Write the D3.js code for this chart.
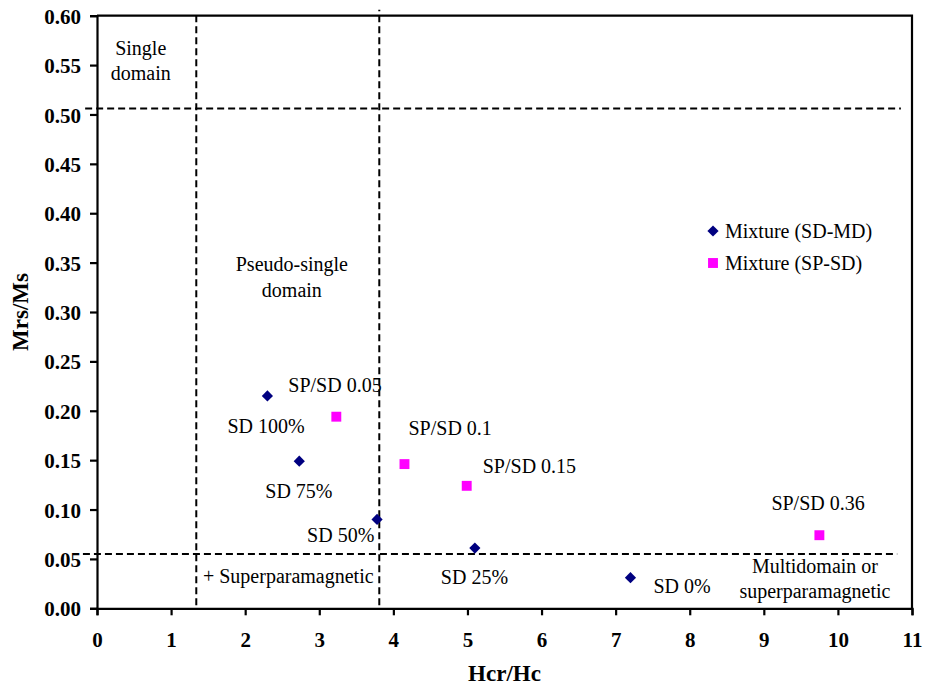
<!DOCTYPE html>
<html>
<head>
<meta charset="utf-8">
<script src="https://cdn.jsdelivr.net/npm/d3@7"></script>
<style>
  html, body { margin: 0; padding: 0; background: #fff; }
  svg, svg text { font-family: "Liberation Serif", "Times New Roman", serif; }
  svg { display: block; }
  .tick text { font-family: "Liberation Serif", serif; font-weight: bold; font-size: 21px; fill: #000; }
  .lbl { font-family: "Liberation Serif", serif; font-size: 20px; fill: #000; }
</style>
</head>
<body>
<svg id="chart" width="927" height="688"></svg>
<script>
// Day plot: Mrs/Ms vs Hcr/Hc

// SD-MD mixture (navy diamonds)
const sdmdX = [2.30, 2.73, 3.78, 5.10, 7.20];
const sdmdY = [0.215, 0.149, 0.090, 0.061, 0.031];
const sdmdLabels = ["SD 100%", "SD 75%", "SD 50%", "SD 25%", "SD 0%"];

// SP-SD mixture (magenta squares)
const spsdX = [3.23, 4.15, 4.99, 9.75];
const spsdY = [0.194, 0.146, 0.124, 0.074];
const spsdLabels = ["SP/SD 0.05", "SP/SD 0.1", "SP/SD 0.15", "SP/SD 0.36"];

const seriesNames = ["Mixture (SD-MD)", "Mixture (SP-SD)"];

const xTicks = [0, 1, 2, 3, 4, 5, 6, 7, 8, 9, 10, 11];
const yTicks = [0, 0.05, 0.10, 0.15, 0.20, 0.25, 0.30, 0.35, 0.40, 0.45, 0.50, 0.55, 0.60];

// domain boundaries (dashed)
const hLines = [
  { y: 0.506, x0: -0.16, x1: 10.85 },
  { y: 0.055, x0: -0.19, x1: 10.80 }
];
const vLines = [
  { x: 1.34, y0: 0.003, y1: 0.603 },
  { x: 3.81, y0: 0.003, y1: 0.606 }
];

// region annotations
const regionText = [
  { text: "Single", x: 0.59, y: 0.560, anchor: "middle" },
  { text: "domain", x: 0.59, y: 0.535, anchor: "middle" },
  { text: "Pseudo-single", x: 2.63, y: 0.342, anchor: "middle" },
  { text: "domain", x: 2.63, y: 0.315, anchor: "middle" },
  { text: "+ Superparamagnetic", x: 1.43, y: 0.0256, anchor: "start" },
  { text: "Multidomain or", x: 9.69, y: 0.036, anchor: "middle" },
  { text: "superparamagnetic", x: 9.69, y: 0.0104, anchor: "middle" }
];

// label offsets (px) from each marker
const sdmdOffsets = [[-40, 37], [-34, 37], [-70, 23], [-34, 36], [23, 15]];
const spsdOffsets = [[-48, -25], [4, -29], [16, -13], [-48, -25]];

const svg = d3.select("#chart");
const x = d3.scaleLinear().domain([0, 11]).range([97, 912]);
const y = d3.scaleLinear().domain([0, 0.6]).range([608.3, 15.7]);

// frame (top and right)
svg.append("path")
  .attr("d", `M${x(0)},${y(0.6)}H${x(11)}V${y(0)}`)
  .attr("fill", "none").attr("stroke", "#000").attr("stroke-width", 2.2);

const xAxis = svg.append("g")
  .attr("transform", `translate(0,${y(0)})`)
  .call(d3.axisBottom(x).tickValues(xTicks).tickFormat(d3.format("d")).tickSize(7).tickPadding(17));
const yAxis = svg.append("g")
  .attr("transform", `translate(${x(0)},0)`)
  .call(d3.axisLeft(y).tickValues(yTicks).tickFormat(d3.format(".2f")).tickSize(7).tickPadding(9));
[xAxis, yAxis].forEach((g) => {
  g.attr("font-family", null).attr("font-size", null);
  g.select(".domain").attr("stroke", "#000").attr("stroke-width", 2.2);
  g.selectAll(".tick line").attr("stroke", "#000").attr("stroke-width", 2.2);
});
yAxis.selectAll(".tick text").attr("dy", "0.36em");

// dashed boundaries
svg.append("g").selectAll("line")
  .data(hLines)
  .join("line")
  .attr("x1", (d) => x(d.x0)).attr("x2", (d) => x(d.x1))
  .attr("y1", (d) => y(d.y)).attr("y2", (d) => y(d.y))
  .attr("stroke", "#000").attr("stroke-width", 2).attr("stroke-dasharray", "7,4");
svg.append("g").selectAll("line")
  .data(vLines)
  .join("line")
  .attr("x1", (d) => x(d.x)).attr("x2", (d) => x(d.x))
  .attr("y1", (d) => y(d.y0)).attr("y2", (d) => y(d.y1))
  .attr("stroke", "#000").attr("stroke-width", 2).attr("stroke-dasharray", "7,4");

// region text
svg.append("g").selectAll("text")
  .data(regionText)
  .join("text")
  .attr("class", "lbl")
  .attr("x", (d) => x(d.x)).attr("y", (d) => y(d.y))
  .attr("text-anchor", (d) => d.anchor)
  .text((d) => d.text);

const diamond = d3.symbol().type(d3.symbolDiamond2).size(80)();
const square = d3.symbol().type(d3.symbolSquare2).size(125)();

const sdmd = sdmdX.map((v, i) => ({ x: v, y: sdmdY[i], label: sdmdLabels[i], off: sdmdOffsets[i] }));
const spsd = spsdX.map((v, i) => ({ x: v, y: spsdY[i], label: spsdLabels[i], off: spsdOffsets[i] }));

svg.append("g").selectAll("path")
  .data(sdmd)
  .join("path")
  .attr("d", diamond)
  .attr("transform", (d) => `translate(${x(d.x)},${y(d.y)})`)
  .attr("fill", "#000080");
svg.append("g").selectAll("path")
  .data(spsd)
  .join("path")
  .attr("d", square)
  .attr("transform", (d) => `translate(${x(d.x)},${y(d.y)})`)
  .attr("fill", "#ff00ff");

svg.append("g").selectAll("text")
  .data(sdmd.concat(spsd))
  .join("text")
  .attr("class", "lbl")
  .attr("x", (d) => x(d.x) + d.off[0])
  .attr("y", (d) => y(d.y) + d.off[1])
  .text((d) => d.label);

// legend
const legend = svg.append("g").attr("transform", "translate(713,231)");
seriesNames.forEach((name, i) => {
  const g = legend.append("g").attr("transform", `translate(0,${i * 32})`);
  g.append("path").attr("d", i === 0 ? diamond : square)
    .attr("fill", i === 0 ? "#000080" : "#ff00ff");
  g.append("text").attr("class", "lbl").attr("x", 12).attr("y", 6.5).text(name);
});

// axis titles
svg.append("text")
  .attr("x", (x(0) + x(11)) / 2).attr("y", 681)
  .attr("text-anchor", "middle")
  .attr("font-weight", "bold").attr("font-size", 23)
  .text("Hcr/Hc");
svg.append("text")
  .attr("transform", `translate(28,${(y(0) + y(0.6)) / 2}) rotate(-90)`)
  .attr("text-anchor", "middle")
  .attr("font-weight", "bold").attr("font-size", 23)
  .text("Mrs/Ms");
</script>
</body>
</html>
